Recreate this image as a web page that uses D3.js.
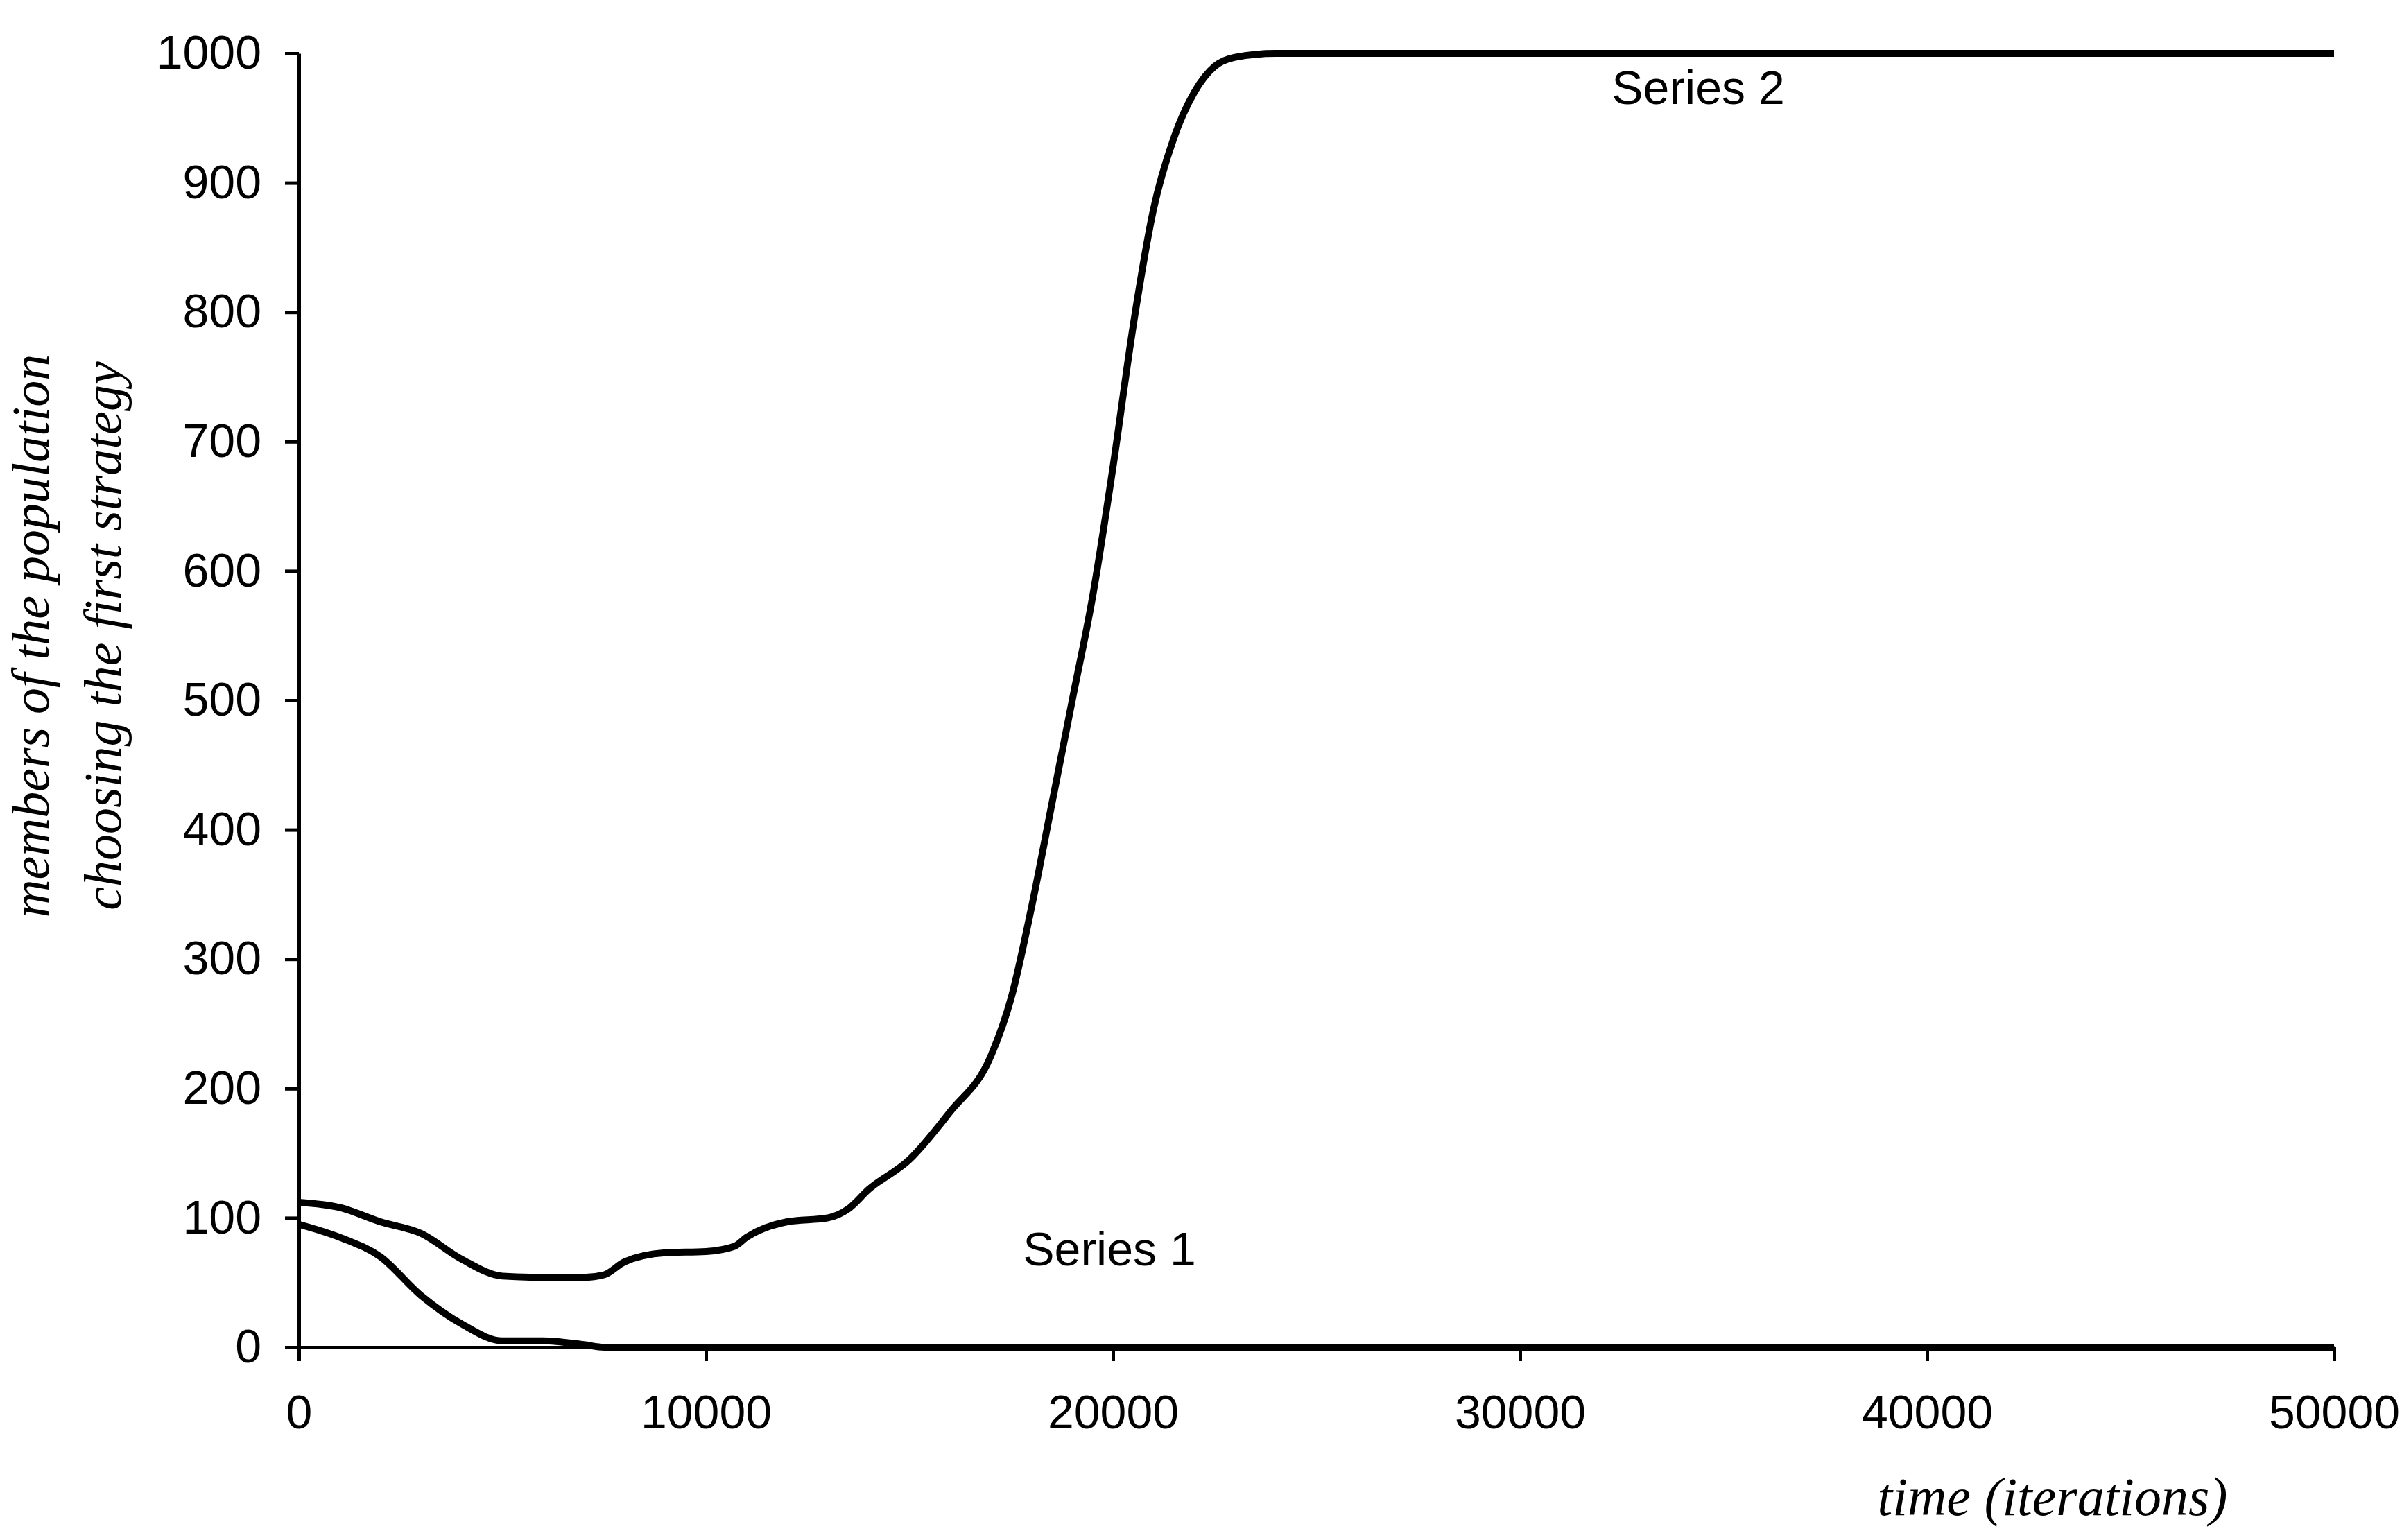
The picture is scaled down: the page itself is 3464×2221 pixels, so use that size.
<!DOCTYPE html>
<html><head><meta charset="utf-8">
<script src="https://cdn.jsdelivr.net/npm/d3@7"></script>
<style>body{margin:0;background:#fff}</style></head>
<body><svg id="c" width="3464" height="2221"></svg>
<script>
const xTicks=[0,10000,20000,30000,40000,50000];
const yTicks=[0,100,200,300,400,500,600,700,800,900,1000];
const s2x=[0,1000,2000,3000,4000,5000,6000,7000,7500,8000,9000,10000,10700,11000,12000,13000,13500,14000,15000,16000,17000,17500,18000,18500,19000,19500,20000,20500,21000,21500,22000,22500,23000,24000,50000];
const s2y=[112,108,97,88,68,55,54,54,56,66,73,74,78,85,97,100,107,122,145,182,225,270,340,420,500,580,680,790,880,935,970,990,997,1000,1000];
const s1x=[0,1000,2000,3000,4000,5000,6000,7000,7500,50000];
const s1y=[95,85,70,40,18,5,5,2,0,0];
const svg=d3.select("#c");
const x=d3.scaleLinear().domain([0,50000]).range([431,3366]);
const y=d3.scaleLinear().domain([0,1000]).range([1943,77]);
const font="Liberation Sans, Arial, sans-serif";
const ya=svg.append("g").attr("transform","translate(431,0)").call(d3.axisLeft(y).tickValues(yTicks).tickFormat(d3.format("d")).tickSize(20).tickSizeOuter(0).tickPadding(34));
const xa=svg.append("g").attr("transform","translate(0,1943)").call(d3.axisBottom(x).tickValues(xTicks).tickFormat(d3.format("d")).tickSize(20).tickSizeOuter(0).tickPadding(46));
[ya,xa].forEach(a=>{a.selectAll("path,line").attr("stroke","#000").attr("stroke-width",5);
 a.selectAll("text").attr("font-family",font).attr("font-size",68).attr("fill","#000");});
xa.selectAll("text").attr("dy","0.75em");
const line=d3.line().x(d=>x(d[0])).y(d=>y(d[1])).curve(d3.curveMonotoneX);
[[s1x,s1y],[s2x,s2y]].forEach(([xs,ys])=>{
 svg.append("path").attr("d",line(xs.map((v,i)=>[v,ys[i]]))).attr("fill","none").attr("stroke","#000").attr("stroke-width",10);
});
svg.append("text").attr("x",2449).attr("y",150).attr("text-anchor","middle").attr("font-family",font).attr("font-size",68).text("Series 2");
svg.append("text").attr("x",1600).attr("y",1825).attr("text-anchor","middle").attr("font-family",font).attr("font-size",68).text("Series 1");
const serif="Liberation Serif, Times New Roman, serif";
svg.append("text").attr("x",2960).attr("y",2185).attr("text-anchor","middle").attr("font-family",serif).attr("font-style","italic").attr("font-size",78).text("time (iterations)");
[["members of the population",70],["choosing the first strategy",174]].forEach(([t,xx])=>{
 svg.append("text").attr("transform",`translate(${xx},917) rotate(-90)`).attr("text-anchor","middle").attr("font-family",serif).attr("font-style","italic").attr("font-size",76).text(t);
});
</script></body></html>
